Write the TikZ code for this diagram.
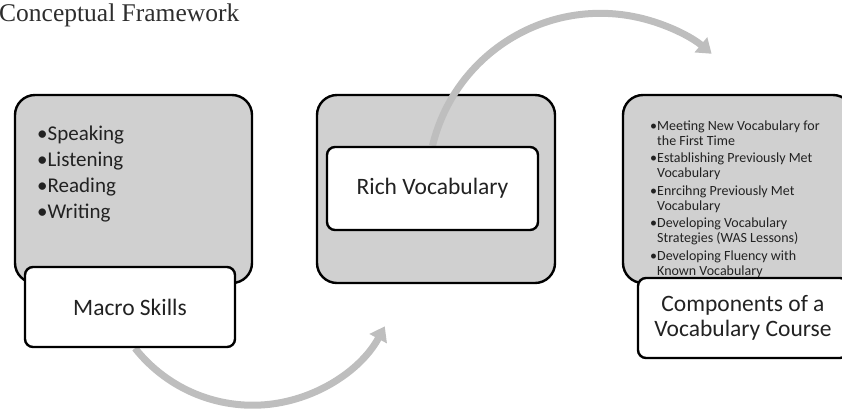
\documentclass[tikz,border=0pt]{standalone}
\usepackage{fontspec}
\setmainfont{Liberation Serif}
\newfontfamily\bodysans{Carlito}
\usetikzlibrary{arrows.meta}
\pgfdeclarelayer{panels}
\pgfdeclarelayer{flow}
\pgfsetlayers{panels,flow,main}
\definecolor{panelgray}{RGB}{208,208,208}
\definecolor{flowgray}{RGB}{190,190,190}
\definecolor{ink}{RGB}{34,34,34}
\definecolor{titleink}{RGB}{45,45,45}

\begin{document}
\begin{tikzpicture}[x=1pt,y=-1pt,
  panel/.style={draw=black, line width=2.4pt, fill=panelgray, rounded corners=20pt,
                inner sep=0pt, minimum height=188pt},
  label box/.style={draw=black, line width=2.4pt, fill=white, rounded corners=8pt,
                inner sep=0pt, minimum width=210pt, minimum height=80pt,
                font=\bodysans\fontsize{23.5}{25}\selectfont, text=ink, align=center},
  big item/.style={anchor=base west, inner sep=0pt, text=ink,
                font=\bodysans\fontsize{21}{24}\selectfont},
  small item/.style={anchor=base west, inner sep=0pt, text=ink,
                font=\bodysans\fontsize{14}{15}\selectfont},
  flow/.style={draw=flowgray, line width=7pt, -{Triangle[width=19pt,length=14pt]}}
]
\useasboundingbox (0,0) rectangle (842,408);

% heading
\node[anchor=base west, inner sep=0pt, text=titleink,
      font=\fontsize{25.5}{28}\selectfont] (title) at (-1,21) {Conceptual Framework};

\begin{pgfonlayer}{panels}
  % grey panels
  \node[panel, minimum width=237pt] (skills) at (133.5,189) {};
  \node[panel, minimum width=238pt] (rich)   at (436,189)   {};
  \node[panel, minimum width=230pt] (course) at (738,189)   {};

  % macro skills list
  \foreach \n/\y/\t in {1/140/Speaking, 2/166/Listening, 3/192/Reading, 4/218/Writing}
    \node[big item] (skill\n) at (37,\y) {•\t};

  % course components list
  \foreach \n/\y/\b/\t in {
      1/130/1/Meeting New Vocabulary for,
      2/145/0/the First Time,
      3/162.5/1/Establishing Previously Met,
      4/177.5/0/Vocabulary,
      5/195/1/Enrcihng Previously Met,
      6/210/0/Vocabulary,
      7/227.5/1/Developing Vocabulary,
      8/242.5/0/Strategies (WAS Lessons),
      9/260/1/Developing Fluency with,
      10/275/0/Known Vocabulary}
    \node[small item] (part\n) at (650,\y)
      {\ifnum\b=1 \makebox[7pt][l]{•}\else\hspace*{7pt}\fi\t};
\end{pgfonlayer}

% white title boxes
\node[label box] (skillsl) at (130,307) {Macro Skills};
\node[label box, minimum width=211pt, minimum height=83pt] (richl) at (432.5,188.5) {Rich Vocabulary};
\node[label box] (coursel) at (743,318) {Components of a\\Vocabulary Course};

% curved grey arrows
\begin{pgfonlayer}{flow}
  \draw[flow] ([xshift=5pt]skillsl.south) arc[start angle=218.3, end angle=331.7, radius=150pt];
  \draw[flow] (richl.north) arc[start angle=166.5, end angle=50, radius=172.8pt];
\end{pgfonlayer}
\end{tikzpicture}
\end{document}
